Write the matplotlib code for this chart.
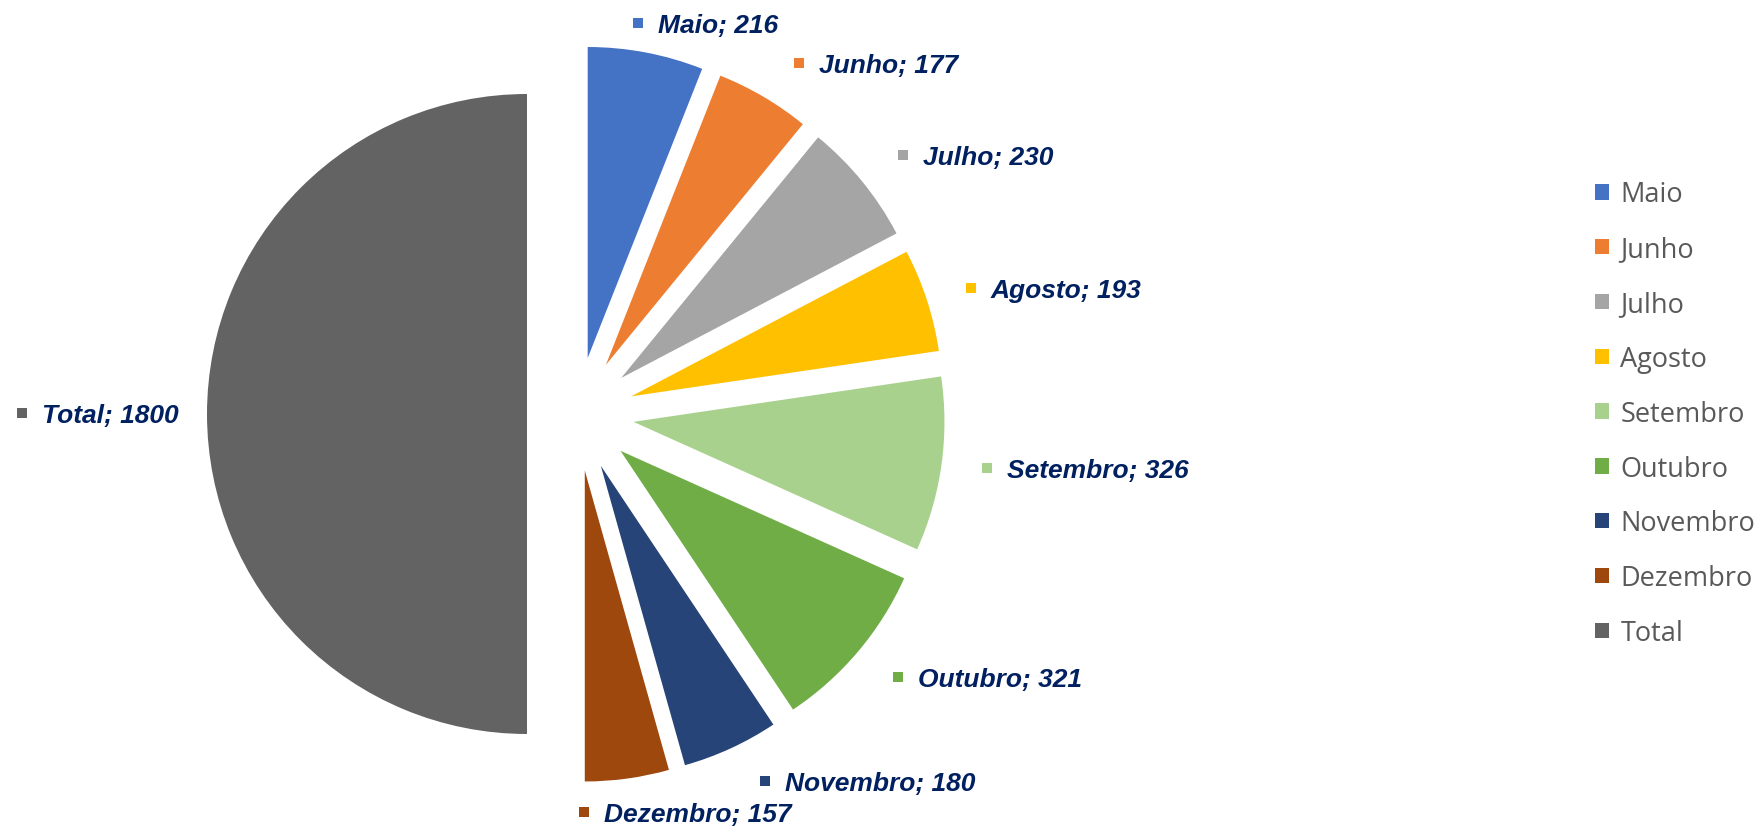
import numpy as np
import matplotlib
matplotlib.use("Agg")
import matplotlib.pyplot as plt

# data
meses = ["Maio", "Junho", "Julho", "Agosto", "Setembro", "Outubro",
         "Novembro", "Dezembro", "Total"]
valores = [216, 177, 230, 193, 326, 321, 180, 157, 1800]
cores = ["#4472C4", "#ED7D31", "#A5A5A5", "#FFC000", "#A9D18E",
         "#70AD47", "#264478", "#9E480E", "#636363"]

# layout (pixels, image coords with y going down)
W, H = 1763, 828
centro = (577, 415)
raio = 311
raio_total = 320
explode_mes = 57
explode_total = 50
# marker centre of each data label
pos_rotulos = [(638, 24), (799, 64), (903, 156), (971, 289), (987, 469),
               (898, 678), (765, 782), (584, 813), (22, 414)]

cor_rotulo = "#002060"

fig = plt.figure(figsize=(W / 100, H / 100), dpi=100)
ax = fig.add_axes([0, 0, 1, 1])

# pie explode is an absolute offset in data units (pixels here)
explode = [explode_mes] * (len(valores) - 1) + [explode_total]
wedges, _ = ax.pie(valores, colors=cores, startangle=90, counterclock=False,
                   radius=raio, center=(centro[0], H - centro[1]),
                   explode=explode, wedgeprops=dict(linewidth=0))
wedges[-1].set_radius(raio_total)

ax.set_xlim(0, W)
ax.set_ylim(0, H)
ax.axis("off")

# data labels
for (px, py), nome, v, c in zip(pos_rotulos, meses, valores, cores):
    ax.plot(px, H - py, marker="s", ms=6.5, mew=0, color=c)
    ax.text(px + 20, H - py - 9, f"{nome}; {v}", ha="left", va="baseline",
            fontsize=19, fontweight="bold", fontstyle="italic",
            family="Liberation Sans", color=cor_rotulo)

# legend
leg = ax.legend(wedges, meses, loc="center left",
                bbox_to_anchor=(1595.5 / W, 1 - 414.7 / H),
                frameon=False, borderpad=0, borderaxespad=0,
                handlelength=0.5, handleheight=0.5, handletextpad=0.42,
                labelspacing=0.99,
                prop={"family": "Open Sans", "size": 19.5})
for t in leg.get_texts():
    t.set_color("#595959")

fig.savefig("out.png", dpi=100)
